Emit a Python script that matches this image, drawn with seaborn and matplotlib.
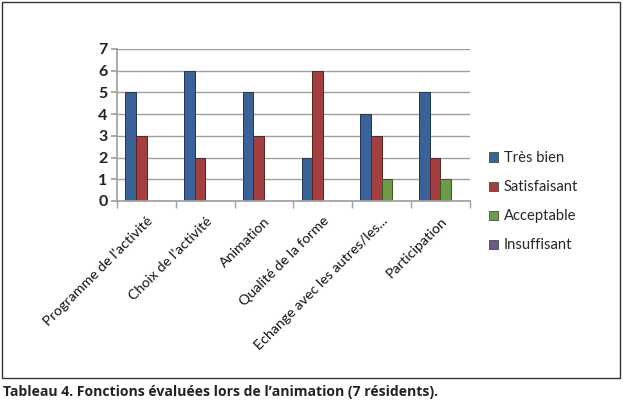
import matplotlib
matplotlib.use("Agg")
import matplotlib.pyplot as plt
import seaborn as sns
import pandas as pd
import numpy as np
from matplotlib.patches import Rectangle
from matplotlib.ticker import FixedLocator

categories = ["Programme de l’activité", "Choix de l’activité", "Animation",
              "Qualité de la forme", "Echange avec les autres/les...", "Participation"]
series = ["Très bien", "Satisfaisant", "Acceptable", "Insuffisant"]
tres_bien = [5, 6, 5, 2, 4, 5]
satisfaisant = [3, 2, 3, 6, 3, 2]
acceptable = [0, 0, 0, 0, 1, 1]
insuffisant = [0, 0, 0, 0, 0, 0]
yticks = [0, 1, 2, 3, 4, 5, 6, 7]
caption = "Tableau 4. Fonctions évaluées lors de l’animation (7 résidents)."

colors = ["#2A60A8", "#B52E30", "#6AAA3A", "#6A4E9C"]

rows = []
for s, vals in zip(series, [tres_bien, satisfaisant, acceptable, insuffisant]):
    for c, v in zip(categories, vals):
        rows.append({"cat": c, "serie": s, "val": v})
df = pd.DataFrame(rows)

sns.set_theme(style="white")
plt.rcParams["font.family"] = ["Lato", "DejaVu Sans"]

fig = plt.figure(figsize=(6.23, 4.04), dpi=100)
ax = fig.add_axes([0.188, 0.5025, 0.566, 0.3765])

sns.barplot(data=df, x="cat", y="val", hue="serie", order=categories,
            hue_order=series, palette=colors, width=0.72, ax=ax,
            edgecolor="none", linewidth=0, legend=True, errorbar=None)

for p in ax.patches:
    if p.get_height() > 0:
        fc = p.get_facecolor()
        p.set_edgecolor(tuple(np.array(fc[:3]) * 0.55) + (1,))
        p.set_linewidth(0.7)

ax.set_ylim(0, 7)
ax.set_xlim(-0.5, len(categories) - 0.5)
ax.set_yticks(yticks)
ax.set_yticklabels([str(t) for t in yticks], fontsize=11.5, fontweight="bold", color="#222222")
ax.yaxis.grid(True, color="#A0A0A0", linewidth=1)
ax.set_axisbelow(True)
ax.set_xlabel("")
ax.set_ylabel("")
for s in ["top", "right"]:
    ax.spines[s].set_visible(False)
ax.spines["left"].set_color("#A0A0A0")
ax.spines["bottom"].set_color("#A0A0A0")
ax.tick_params(axis="y", length=4, color="#A0A0A0", left=True, pad=3)
ax.set_xticks(range(len(categories)))
ax.set_xticklabels(categories, rotation=45, ha="right", rotation_mode="anchor",
                   fontsize=10.3, color="#111111")
ax.tick_params(axis="x", length=0, pad=10)
ax.xaxis.set_minor_locator(FixedLocator(np.arange(-0.5, len(categories), 1.0)))
ax.tick_params(axis="x", which="minor", length=5, color="#A0A0A0", bottom=True)

leg = ax.legend(loc="upper left", bbox_to_anchor=(1.038, 0.365), frameon=False,
                fontsize=10.6, handlelength=0.6, handleheight=0.6, handletextpad=0.4,
                labelspacing=1.02, borderaxespad=0)
for h in leg.legend_handles:
    h.set_edgecolor("#333333")
    h.set_linewidth(0.5)

fig.patches.append(Rectangle((2 / 623, 1 - 378 / 404), 618 / 623, 376 / 404,
                             transform=fig.transFigure, fill=False,
                             edgecolor="#333333", linewidth=1))
fig.text(3 / 623, 1 - 392 / 404, caption, fontsize=10.1, fontweight="bold",
         color="#222222", va="center", ha="left", family=["Open Sans", "DejaVu Sans"])

fig.savefig("out.png", dpi=100, facecolor="white")
